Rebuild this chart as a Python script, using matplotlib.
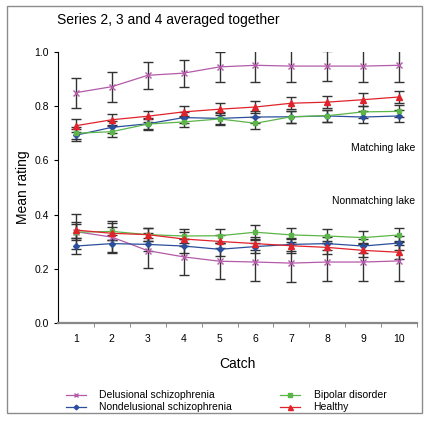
import matplotlib.pyplot as plt
from matplotlib.patches import Rectangle

plt.rcParams['font.family'] = ['Liberation Sans', 'DejaVu Sans']

catch = [1, 2, 3, 4, 5, 6, 7, 8, 9, 10]

# matching lake
delus_m = [0.85, 0.872, 0.914, 0.922, 0.945, 0.951, 0.948, 0.948, 0.948, 0.951]
delus_m_err = [0.055, 0.055, 0.05, 0.05, 0.055, 0.06, 0.058, 0.056, 0.06, 0.06]
nondel_m = [0.693, 0.722, 0.735, 0.758, 0.755, 0.76, 0.761, 0.764, 0.76, 0.764]
nondel_m_err = [0.022, 0.022, 0.02, 0.02, 0.022, 0.022, 0.022, 0.022, 0.022, 0.022]
bipolar_m = [0.70, 0.706, 0.734, 0.742, 0.753, 0.737, 0.761, 0.765, 0.779, 0.781]
bipolar_m_err = [0.022, 0.02, 0.02, 0.02, 0.022, 0.022, 0.022, 0.022, 0.022, 0.022]
healthy_m = [0.728, 0.75, 0.763, 0.779, 0.789, 0.797, 0.811, 0.815, 0.824, 0.834]
healthy_m_err = [0.025, 0.02, 0.02, 0.02, 0.022, 0.022, 0.022, 0.023, 0.024, 0.023]

# nonmatching lake
delus_n = [0.337, 0.317, 0.267, 0.244, 0.228, 0.225, 0.221, 0.225, 0.225, 0.229]
delus_n_err = [0.065, 0.06, 0.065, 0.067, 0.066, 0.07, 0.07, 0.07, 0.07, 0.073]
nondel_n = [0.284, 0.293, 0.29, 0.284, 0.272, 0.282, 0.29, 0.293, 0.284, 0.295]
nondel_n_err = [0.03, 0.03, 0.025, 0.025, 0.025, 0.025, 0.025, 0.025, 0.025, 0.025]
bipolar_n = [0.335, 0.338, 0.326, 0.321, 0.322, 0.335, 0.325, 0.321, 0.315, 0.325]
bipolar_n_err = [0.03, 0.03, 0.025, 0.025, 0.025, 0.025, 0.025, 0.025, 0.025, 0.025]
healthy_n = [0.343, 0.331, 0.326, 0.31, 0.301, 0.293, 0.285, 0.279, 0.268, 0.261]
healthy_n_err = [0.03, 0.025, 0.025, 0.025, 0.025, 0.025, 0.025, 0.025, 0.025, 0.025]

names = ["Delusional schizophrenia", "Nondelusional schizophrenia", "Bipolar disorder", "Healthy"]
colors = ["#b35aa8", "#2b4f9c", "#5cb548", "#e0232b"]
markers = ["x", "D", "s", "^"]
msizes = [4, 3, 3.5, 4.5]

fig = plt.figure(figsize=(4.31, 4.22), dpi=100)
fig.patches.append(Rectangle((7/431, 1-413/422), 415/431, 407/422, transform=fig.transFigure,
                             fill=False, edgecolor="#8c8c8c", linewidth=1))
ax = fig.add_axes([58/431, 1-323/422, 359/431, 271/422])

series = [(delus_m, delus_m_err, delus_n, delus_n_err),
          (nondel_m, nondel_m_err, nondel_n, nondel_n_err),
          (bipolar_m, bipolar_m_err, bipolar_n, bipolar_n_err),
          (healthy_m, healthy_m_err, healthy_n, healthy_n_err)]

handles = []
for i, (m, me, n, ne) in enumerate(series):
    for vals, errs in ((m, me), (n, ne)):
        ax.errorbar(catch, vals, yerr=errs, fmt="none", ecolor="#333333", elinewidth=1,
                    capsize=3.5, capthick=1, zorder=2)
        h, = ax.plot(catch, vals, color=colors[i], marker=markers[i], markersize=msizes[i],
                     linewidth=0.9, zorder=3)
    handles.append(h)

ax.set_xlim(0.5, 10.5)
ax.set_ylim(0, 1.0)
ax.set_xticks(catch)
ax.set_xticks([c + 0.5 for c in catch], minor=True)
ax.tick_params(axis="x", which="major", length=0, labelsize=7.5, pad=8)
ax.tick_params(axis="x", which="minor", length=3, color="#777777")
ax.set_yticks([0.0, 0.2, 0.4, 0.6, 0.8, 1.0])
ax.set_yticklabels(["0.0", "0.2", "0.4", "0.6", "0.8", "1.0"])
ax.tick_params(axis="y", labelsize=7.5, length=3)
ax.spines["top"].set_visible(False)
ax.spines["right"].set_visible(False)
ax.spines["bottom"].set_color("#888888")
ax.spines["bottom"].set_linewidth(1.6)
ax.set_ylabel("Mean rating", fontsize=10, labelpad=3)
ax.set_xlabel("Catch", fontsize=10, labelpad=9)

fig.text(57/431, 1-20/422, "Series 2, 3 and 4 averaged together", fontsize=10, va="center")
ax.text(10.45, 0.645, "Matching lake", fontsize=7.5, ha="right", va="center")
ax.text(10.45, 0.45, "Nonmatching lake", fontsize=7.5, ha="right", va="center")

fig.legend([handles[0], handles[1]], names[:2], loc="upper left",
           bbox_to_anchor=(62/431, 1-386/422), frameon=False, fontsize=7.5,
           handlelength=1.9, labelspacing=0.2, handletextpad=1.3, borderaxespad=0,
           markerscale=0.8)
fig.legend([handles[2], handles[3]], names[2:], loc="upper left",
           bbox_to_anchor=(276/431, 1-386/422), frameon=False, fontsize=7.5,
           handlelength=1.9, labelspacing=0.2, handletextpad=1.3, borderaxespad=0,
           markerscale=0.8)

fig.savefig("out.png", dpi=100)
